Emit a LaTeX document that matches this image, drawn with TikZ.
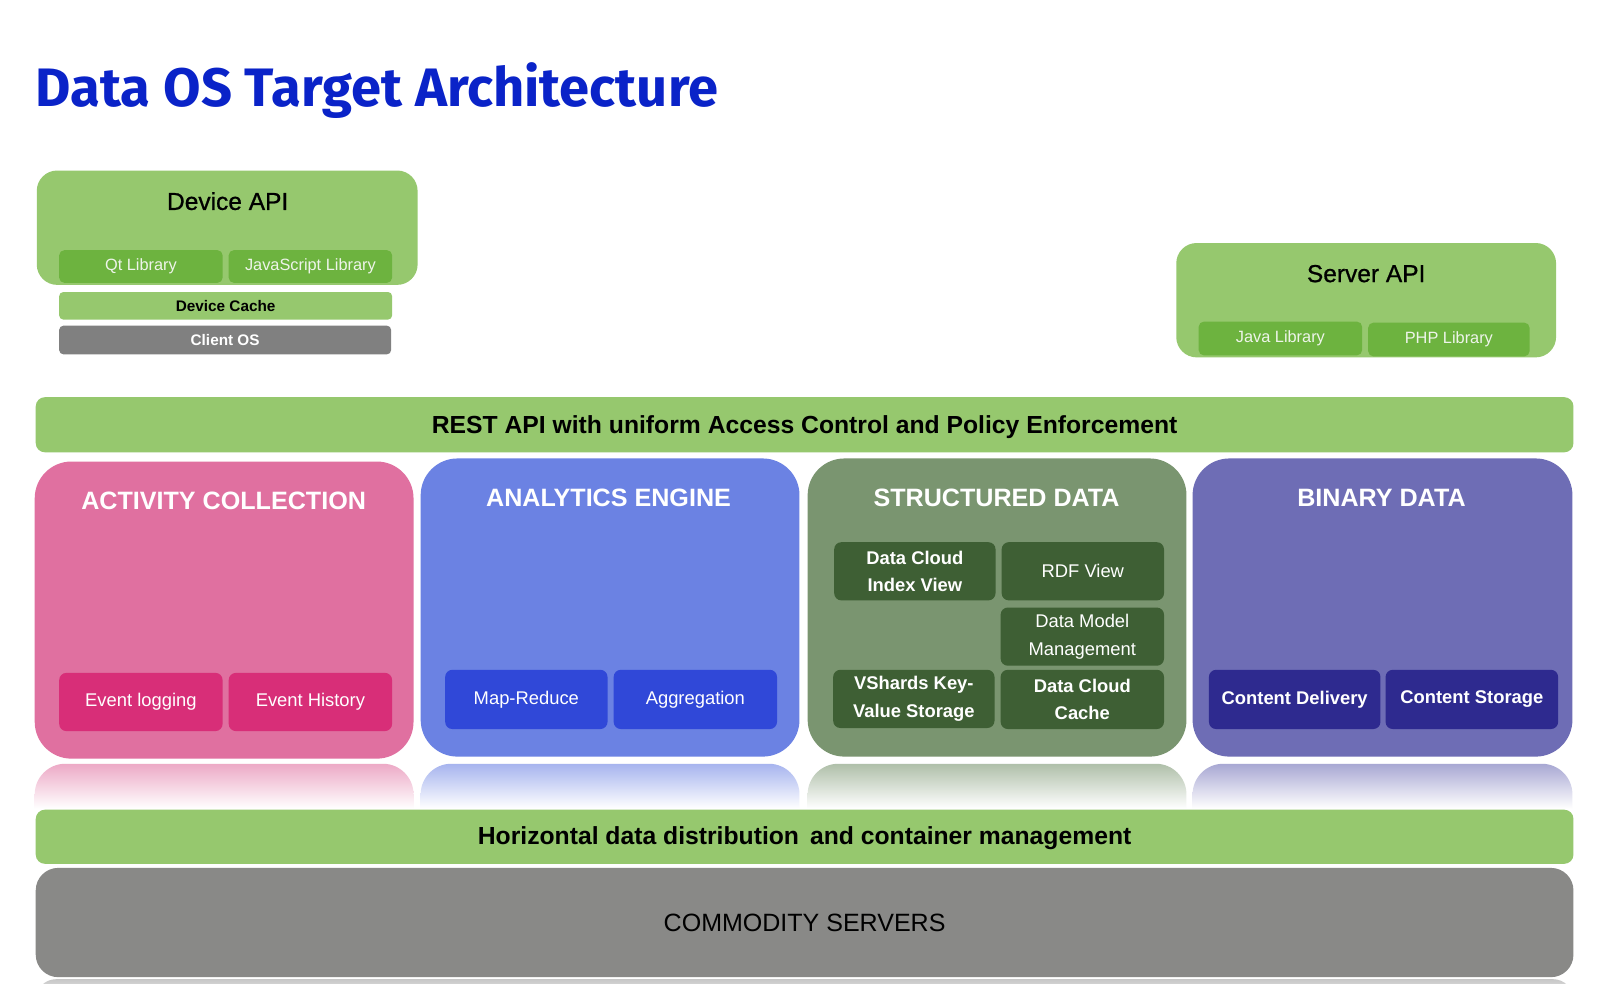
\documentclass[tikz,border=0pt]{standalone}
\usepackage{fontspec}
\setmainfont{Liberation Sans}
\newfontfamily\titlefont{Fira Sans}
\newfontfamily\semib{Liberation Sans}[FakeBold=0.8]
\definecolor{lgreen}{RGB}{150,200,110}
\definecolor{dgreen}{RGB}{109,179,63}
\definecolor{cgrey}{RGB}{128,128,128}
\definecolor{sgrey}{RGB}{137,137,135}
\definecolor{pinkA}{RGB}{224,112,160}
\definecolor{pinkB}{RGB}{216,46,120}
\definecolor{blueA}{RGB}{107,130,227}
\definecolor{blueB}{RGB}{48,72,216}
\definecolor{sageA}{RGB}{122,149,112}
\definecolor{sageB}{RGB}{62,95,52}
\definecolor{purpA}{RGB}{110,109,181}
\definecolor{purpB}{RGB}{46,42,143}
\definecolor{titleblue}{RGB}{10,35,200}
\definecolor{softwhite}{RGB}{238,244,234}
\tikzset{
  x=1pt, y=-1pt,
  apibox/.style={fill=lgreen, rounded corners=20pt, inner sep=0pt},
  libbox/.style={fill=dgreen, rounded corners=5pt, inner sep=0pt, text=softwhite, font=\fontsize{16}{18}\selectfont},
  barbox/.style={rounded corners=9pt, inner sep=0pt},
  bigbox/.style={rounded corners=36pt, inner sep=0pt},
  subbox/.style={rounded corners=7pt, inner sep=0pt, align=center, text=white, font=\fontsize{18}{27}\selectfont},
  boldsub/.style={subbox, font=\fontsize{18}{27}\selectfont\bfseries},
  lbl/.style={inner sep=0pt, font=\fontsize{24}{28}\selectfont\semib},
  biglbl/.style={inner sep=0pt, text=white, font=\fontsize{24.6}{28}\selectfont\bfseries},
  barlbl/.style={inner sep=0pt, font=\fontsize{24.2}{28}\selectfont\bfseries},
}
\begin{document}
\begin{tikzpicture}
\useasboundingbox[fill=white] (0,0) rectangle (1568,963.7);

% title
\node[anchor=base west, inner sep=0pt, text=titleblue] (title) at (35,104)
  {\resizebox{668pt}{43pt}{\titlefont\bfseries Data OS Target Architecture}};

% Device API
\node[apibox, minimum width=373pt, minimum height=112pt] (devapi) at (222.5,223) {};
\node[lbl] (devapilbl) at (223,197) {Device API};
\node[libbox, minimum width=160pt, minimum height=32pt] (qt) at (138,261) {Qt Library};
\node[libbox, minimum width=160pt, minimum height=32pt] (js) at (304,261) {JavaScript Library};
\node[fill=lgreen, rounded corners=4pt, inner sep=0pt, minimum width=326pt, minimum height=27pt,
      font=\fontsize{15}{18}\selectfont\bfseries] (devcache) at (221,299.5) {Device Cache};
\node[fill=cgrey, rounded corners=4pt, inner sep=0pt, minimum width=325pt, minimum height=28pt,
      text=white, font=\fontsize{15}{18}\selectfont\bfseries] (clientos) at (220.5,333) {Client OS};

% Server API
\node[apibox, minimum width=372pt, minimum height=112pt] (srvapi) at (1338,294) {};
\node[lbl] (srvapilbl) at (1338,268) {Server API};
\node[libbox, minimum width=160pt, minimum height=33pt] (java) at (1254,331.5) {Java Library};
\node[libbox, minimum width=158pt, minimum height=33pt] (php) at (1419,332.5) {PHP Library};

% REST bar
\node[barbox, fill=lgreen, minimum width=1506pt, minimum height=54pt] (rest) at (788,416) {};
\node[barlbl] (restlbl) at (788,418)
  {REST API with uniform Access Control and Policy Enforcement};

% reflections
\foreach \xa/\xb/\col in {34/405/pinkA, 412/783/blueA, 791/1162/sageA, 1168/1540/purpA}{
  \shade[top color=\col!60!white, bottom color=white]
    (\xa,792) [rounded corners=30pt] -- (\xa,748) -- (\xb,748) [sharp corners] -- (\xb,792) -- cycle;
}

% big boxes
\node[bigbox, fill=pinkA, minimum width=371pt, minimum height=291pt] (activity) at (219.5,597.5) {};
\node[biglbl] (activitylbl) at (219,491) {ACTIVITY COLLECTION};
\node[subbox, fill=pinkB, minimum width=160pt, minimum height=57pt] (evlog) at (138,687.5) {Event logging};
\node[subbox, fill=pinkB, minimum width=160pt, minimum height=57pt] (evhist) at (304,687.5) {Event History};

\node[bigbox, fill=blueA, minimum width=371pt, minimum height=292pt] (analytics) at (597.5,595) {};
\node[biglbl] (analyticslbl) at (596,488) {ANALYTICS ENGINE};
\node[subbox, fill=blueB, minimum width=159pt, minimum height=58pt] (mapred) at (515.5,685) {Map-Reduce};
\node[subbox, fill=blueB, minimum width=160pt, minimum height=58pt] (aggr) at (681,685) {Aggregation};

\node[bigbox, fill=sageA, minimum width=371pt, minimum height=292pt] (structured) at (976.5,595) {};
\node[biglbl] (structuredlbl) at (976,488) {STRUCTURED DATA};
\node[boldsub, fill=sageB, minimum width=158pt, minimum height=57pt] (dcindex) at (896,559.5) {Data Cloud\\Index View};
\node[subbox, fill=sageB, minimum width=159pt, minimum height=57pt] (rdf) at (1060.5,559.5) {RDF View};
\node[subbox, fill=sageB, minimum width=160pt, minimum height=57pt] (dmm) at (1060,623.5) {Data Model\\Management};
\node[boldsub, fill=sageB, minimum width=158pt, minimum height=57pt] (vshards) at (895,684.5) {VShards Key-\\Value Storage};
\node[boldsub, fill=sageB, minimum width=160pt, minimum height=58pt] (dccache) at (1060,685) {Data Cloud\\Cache};

\node[bigbox, fill=purpA, minimum width=372pt, minimum height=292pt] (binary) at (1354,595) {};
\node[biglbl] (binarylbl) at (1353,488) {BINARY DATA};
\node[boldsub, fill=purpB, minimum width=168pt, minimum height=58pt] (cdeliv) at (1268,685) {Content Delivery};
\node[boldsub, fill=purpB, minimum width=169pt, minimum height=58pt] (cstore) at (1441.5,685) {Content Storage};

% horizontal bar
\node[barbox, fill=lgreen, minimum width=1506pt, minimum height=53pt] (horiz) at (788,819.5) {};
\node[barlbl] (horizlbl) at (788,821)
  {Horizontal data distribution\, and container management};

% commodity servers
\node[rounded corners=22pt, inner sep=0pt, fill=sgrey, minimum width=1506pt, minimum height=107pt, font=\fontsize{24.5}{28}\selectfont] (commodity) at (788,903.5)
  {COMMODITY SERVERS};
\shade[top color=black!22, bottom color=black!12]
  (35,970) [rounded corners=20pt] -- (35,959) -- (1541,959) [sharp corners] -- (1541,970) -- cycle;
\end{tikzpicture}
\end{document}
